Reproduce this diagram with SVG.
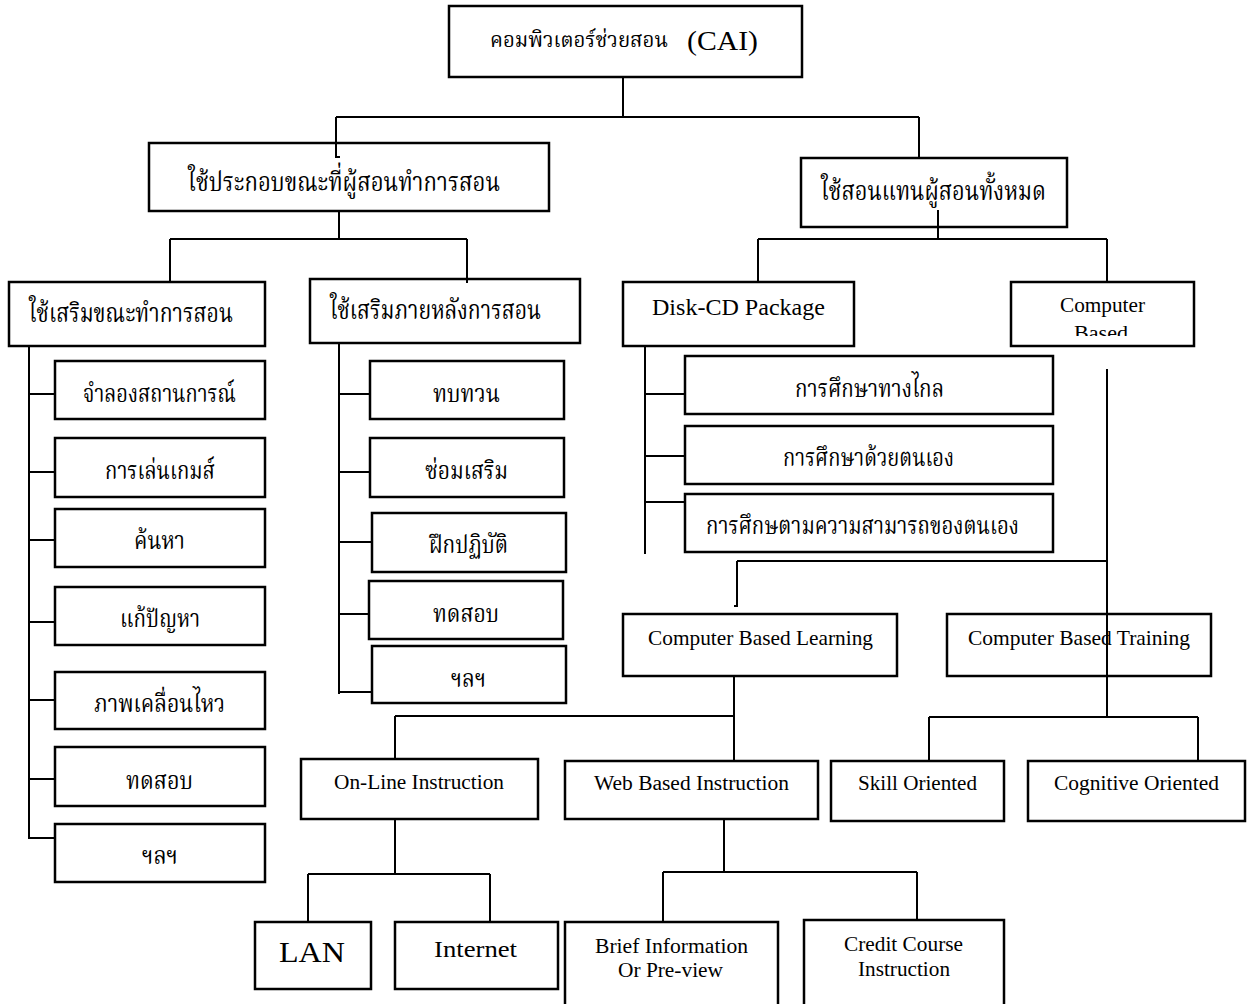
<svg xmlns="http://www.w3.org/2000/svg" width="1253" height="1004" viewBox="0 0 1253 1004">
<style>
.box{fill:#fff;stroke:#000;stroke-width:2.5}
.th{font-family:"Noto Serif Thai","Noto Sans Thai","Liberation Serif",serif;font-size:24px;fill:#000}
.en{font-family:"Liberation Serif","Times New Roman",serif;font-size:21px;fill:#000}
.ln{fill:none;stroke:#000;stroke-width:2}
</style>
<defs>
<clipPath id="cbclip"><rect x="1012" y="283" width="181" height="53"/></clipPath>
</defs>
<g id="nodes">
<g id="n-cai"><rect class="box" x="449" y="6" width="353" height="71"/>
<text class="th" x="490" y="47" textLength="178" lengthAdjust="spacingAndGlyphs" style="font-size:21px">คอมพิวเตอร์ช่วยสอน</text>
<text class="en" x="687" y="50" textLength="71" lengthAdjust="spacingAndGlyphs" style="font-size:27px">(CAI)</text></g>
<g id="n-support"><rect class="box" x="149" y="143" width="400" height="68"/><text class="th" x="188" y="191" textLength="312" lengthAdjust="spacingAndGlyphs" style="font-size:27px">ใช้ประกอบขณะที่ผู้สอนทำการสอน</text></g>
<g id="n-replace"><rect class="box" x="801" y="158" width="266" height="69"/><text class="th" x="821" y="200" textLength="225" lengthAdjust="spacingAndGlyphs" style="font-size:27px">ใช้สอนแทนผู้สอนทั้งหมด</text></g>
<g id="n-during"><rect class="box" x="9" y="282" width="256" height="64"/><text class="th" x="29" y="322" textLength="204" lengthAdjust="spacingAndGlyphs" style="font-size:27px">ใช้เสริมขณะทำการสอน</text></g>
<g id="n-after"><rect class="box" x="310" y="279" width="270" height="64"/><text class="th" x="330" y="319" textLength="211" lengthAdjust="spacingAndGlyphs" style="font-size:27px">ใช้เสริมภายหลังการสอน</text></g>
<g id="n-disk"><rect class="box" x="623" y="282" width="231" height="64"/><text class="en" x="652" y="315" textLength="173" lengthAdjust="spacingAndGlyphs" style="font-size:23px">Disk-CD Package</text></g>
<g id="n-cb"><rect class="box" x="1011" y="282" width="183" height="64"/><text class="en" x="1060" y="312" textLength="85" lengthAdjust="spacingAndGlyphs" style="font-size:20px">Computer</text><text class="en" x="1074" y="340" textLength="54" lengthAdjust="spacingAndGlyphs" style="font-size:20px" clip-path="url(#cbclip)">Based</text></g>

<g id="n-l1"><rect class="box" x="55" y="361" width="210" height="58"/><text class="th" x="83" y="402" textLength="153" lengthAdjust="spacingAndGlyphs">จำลองสถานการณ์</text></g>
<g id="n-l2"><rect class="box" x="55" y="438" width="210" height="59"/><text class="th" x="105" y="479" textLength="110" lengthAdjust="spacingAndGlyphs">การเล่นเกมส์</text></g>
<g id="n-l3"><rect class="box" x="55" y="509" width="210" height="58"/><text class="th" x="134" y="549" textLength="51" lengthAdjust="spacingAndGlyphs">ค้นหา</text></g>
<g id="n-l4"><rect class="box" x="55" y="587" width="210" height="58"/><text class="th" x="120" y="627" textLength="80" lengthAdjust="spacingAndGlyphs">แก้ปัญหา</text></g>
<g id="n-l5"><rect class="box" x="55" y="672" width="210" height="57"/><text class="th" x="94" y="712" textLength="131" lengthAdjust="spacingAndGlyphs">ภาพเคลื่อนไหว</text></g>
<g id="n-l6"><rect class="box" x="55" y="747" width="210" height="59"/><text class="th" x="126" y="789" textLength="67" lengthAdjust="spacingAndGlyphs">ทดสอบ</text></g>
<g id="n-l7"><rect class="box" x="55" y="824" width="210" height="58"/><text class="th" x="142" y="864" textLength="36" lengthAdjust="spacingAndGlyphs">ฯลฯ</text></g>

<g id="n-m1"><rect class="box" x="370" y="361" width="194" height="58"/><text class="th" x="433" y="402" textLength="67" lengthAdjust="spacingAndGlyphs">ทบทวน</text></g>
<g id="n-m2"><rect class="box" x="370" y="438" width="194" height="59"/><text class="th" x="425" y="479" textLength="83" lengthAdjust="spacingAndGlyphs">ซ่อมเสริม</text></g>
<g id="n-m3"><rect class="box" x="372" y="513" width="194" height="59"/><text class="th" x="429" y="553" textLength="79" lengthAdjust="spacingAndGlyphs">ฝึกปฏิบัติ</text></g>
<g id="n-m4"><rect class="box" x="369" y="581" width="194" height="58"/><text class="th" x="433" y="622" textLength="66" lengthAdjust="spacingAndGlyphs">ทดสอบ</text></g>
<g id="n-m5"><rect class="box" x="372" y="646" width="194" height="57"/><text class="th" x="451" y="687" textLength="35" lengthAdjust="spacingAndGlyphs">ฯลฯ</text></g>

<g id="n-d1"><rect class="box" x="685" y="356" width="368" height="58"/><text class="th" x="795" y="397" textLength="149" lengthAdjust="spacingAndGlyphs">การศึกษาทางไกล</text></g>
<g id="n-d2"><rect class="box" x="685" y="426" width="368" height="58"/><text class="th" x="783" y="466" textLength="171" lengthAdjust="spacingAndGlyphs">การศึกษาด้วยตนเอง</text></g>
<g id="n-d3"><rect class="box" x="685" y="494" width="368" height="58"/><text class="th" x="706" y="534" textLength="313" lengthAdjust="spacingAndGlyphs">การศึกษตามความสามารถของตนเอง</text></g>

<g id="n-cbl"><rect class="box" x="623" y="614" width="274" height="62"/><text class="en" x="648" y="645" textLength="225" lengthAdjust="spacingAndGlyphs">Computer Based Learning</text></g>
<g id="n-cbt"><rect class="box" x="947" y="614" width="264" height="62"/><text class="en" x="968" y="645" textLength="222" lengthAdjust="spacingAndGlyphs">Computer Based Training</text></g>

<g id="n-online"><rect class="box" x="301" y="759" width="237" height="60"/><text class="en" x="334" y="789" textLength="170" lengthAdjust="spacingAndGlyphs" style="font-size:20px">On-Line Instruction</text></g>
<g id="n-web"><rect class="box" x="565" y="761" width="253" height="58"/><text class="en" x="594" y="790" textLength="195" lengthAdjust="spacingAndGlyphs" style="font-size:20px">Web Based Instruction</text></g>
<g id="n-skill"><rect class="box" x="831" y="761" width="173" height="60"/><text class="en" x="858" y="790" textLength="119" lengthAdjust="spacingAndGlyphs" style="font-size:20px">Skill Oriented</text></g>
<g id="n-cog"><rect class="box" x="1028" y="761" width="217" height="60"/><text class="en" x="1054" y="790" textLength="165" lengthAdjust="spacingAndGlyphs" style="font-size:20px">Cognitive Oriented</text></g>

<g id="n-lan"><rect class="box" x="255" y="922" width="116" height="67"/><text class="en" x="279" y="962" textLength="66" lengthAdjust="spacingAndGlyphs" style="font-size:29px">LAN</text></g>
<g id="n-internet"><rect class="box" x="395" y="922" width="163" height="67"/><text class="en" x="434" y="957" textLength="83" lengthAdjust="spacingAndGlyphs" style="font-size:24px">Internet</text></g>
<g id="n-brief"><rect class="box" x="565" y="922" width="213" height="90"/><text class="en" x="595" y="953" textLength="153" lengthAdjust="spacingAndGlyphs" style="font-size:20px">Brief Information</text><text class="en" x="618" y="977" textLength="105" lengthAdjust="spacingAndGlyphs" style="font-size:20px">Or Pre-view</text></g>
<g id="n-credit"><rect class="box" x="804" y="920" width="200" height="92"/><text class="en" x="844" y="951" textLength="119" lengthAdjust="spacingAndGlyphs" style="font-size:20px">Credit Course</text><text class="en" x="858" y="976" textLength="92" lengthAdjust="spacingAndGlyphs" style="font-size:20px">Instruction</text></g>
</g>
<g id="connectors" class="ln">
<path class="ln" d="M623,77 V117 M336,117 H919 M336,117 V157 H340 M919,117 V158"/>
<path class="ln" d="M339,211 V239 M170,239 H467 M170,239 V282 M467,239 V283"/>
<path class="ln" d="M938,210 V239 M758,239 H1107 M758,239 V282 M1107,239 V282"/>
<path class="ln" d="M29,346 V839 M29,394 H55 M29,472 H55 M29,540 H55 M29,622 H55 M29,700 H55 M29,779 H55 M29,838 H55"/>
<path class="ln" d="M339,343 V694 M339,394 H371 M339,472 H371 M339,542 H373 M339,614 H370 M339,692 H373"/>
<path class="ln" d="M645,346 V554 M645,394 H685 M645,456 H685 M645,502 H685"/>
<path class="ln" d="M1107,369 V717 M737,561 H1107 M737,561 V606 H734"/>
<path class="ln" d="M734,676 V760 M395,716 H734 M395,716 V759"/>
<path class="ln" d="M929,717 H1198 M929,717 V761 M1198,717 V761"/>
<path class="ln" d="M395,819 V874 M308,874 H490 M308,874 V922 M490,874 V922"/>
<path class="ln" d="M724,819 V872 M663,872 H917 M663,872 V921 M917,872 V920"/>
</g>
</svg>
